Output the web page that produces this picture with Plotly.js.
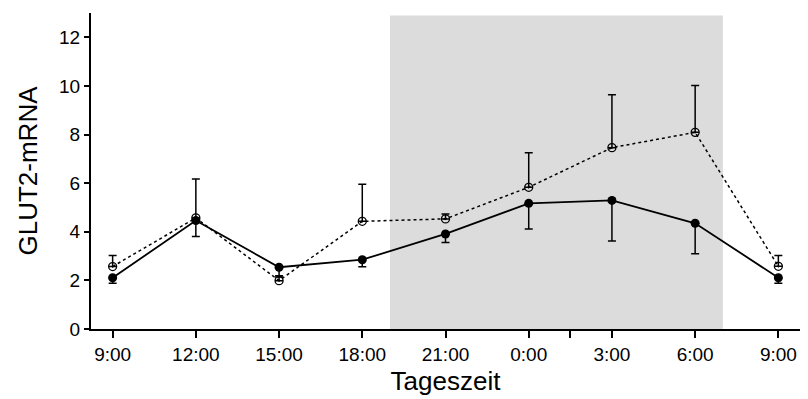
<!DOCTYPE html>
<html>
<head>
<meta charset="utf-8">
<script src="https://cdn.plot.ly/plotly-3.0.1.min.js"></script>
<style>html,body{margin:0;padding:0;background:#fff;}#chart{width:808px;height:399px;}</style>
</head>
<body>
<div id="chart"></div>
<script>
// Tick labels / categories (time of day)
const categories = ["9:00", "12:00", "15:00", "18:00", "21:00", "0:00", "3:00", "6:00", "9:00"];

// Filled circles, solid line (error bars drawn downward)
const filledValues = [2.11, 4.46, 2.54, 2.85, 3.91, 5.17, 5.29, 4.35, 2.11];
const filledErrMinus = [0.23, 0.65, 0.35, 0.29, 0.35, 1.06, 1.67, 1.25, 0.23];

// Open circles, dotted line (error bars drawn upward)
const openValues = [2.57, 4.57, 1.99, 4.43, 4.53, 5.83, 7.46, 8.09, 2.58];
const openErrPlus = [0.45, 1.60, 0.15, 1.53, 0.20, 1.42, 2.18, 1.93, 0.44];

// Dark phase (19:00 -> 7:00) as category-index positions
const darkStart = 3 + 1 / 3;
const darkEnd = 7 + 1 / 3;
const extraTick = 5.5; // unlabeled tick between 0:00 and 3:00

const xIdx = categories.map((_, i) => i);

const traces = [
  {
    x: xIdx, y: openValues, type: "scatter", mode: "lines+markers",
    line: {color: "#000", width: 1.5, dash: "dot"},
    marker: {symbol: "circle-open-dot", size: 8, color: "#000", line: {color: "#000", width: 1.3}},
    error_y: {type: "data", symmetric: false, array: openErrPlus, arrayminus: openValues.map(() => 0),
              color: "#000", thickness: 1.5, width: 4},
    showlegend: false, cliponaxis: false
  },
  {
    x: xIdx, y: filledValues, type: "scatter", mode: "lines+markers",
    line: {color: "#000", width: 1.8},
    marker: {symbol: "circle", size: 9, color: "#000"},
    error_y: {type: "data", symmetric: false, array: filledValues.map(() => 0), arrayminus: filledErrMinus,
              color: "#000", thickness: 1.5, width: 4},
    showlegend: false, cliponaxis: false
  }
];

const tickVals = xIdx.concat([extraTick]);
const tickText = categories.concat([""]);

const layout = {
  width: 808, height: 399,
  margin: {l: 91, r: 8, t: 13, b: 70},
  paper_bgcolor: "#fff", plot_bgcolor: "#fff",
  font: {family: "Liberation Sans, Arial, sans-serif", color: "#000", size: 19},
  xaxis: {
    range: [-0.26, 8.26], showgrid: false, zeroline: false,
    showline: true, linecolor: "#000", linewidth: 2,
    ticks: "outside", ticklen: 7, tickwidth: 2, tickcolor: "#000",
    tickvals: tickVals, ticktext: tickText,
    tickfont: {size: 19},
    title: {text: "Tageszeit", font: {size: 26}, standoff: 8}
  },
  yaxis: {
    range: [0, 13], showgrid: false, zeroline: false,
    showline: true, linecolor: "#000", linewidth: 2,
    ticks: "outside", ticklen: 5, tickwidth: 2, tickcolor: "#000",
    tickvals: [0, 2, 4, 6, 8, 10, 12],
    tickfont: {size: 19},
    title: {text: "GLUT2-mRNA", font: {size: 26}, standoff: 14}
  },
  shapes: [{
    type: "rect", xref: "x", yref: "y", x0: darkStart, x1: darkEnd, y0: 0, y1: 12.9,
    fillcolor: "#dcdcdc", line: {width: 0}, layer: "below"
  }]
};

Plotly.newPlot("chart", traces, layout, {displayModeBar: false, staticPlot: true});
</script>
</body>
</html>
